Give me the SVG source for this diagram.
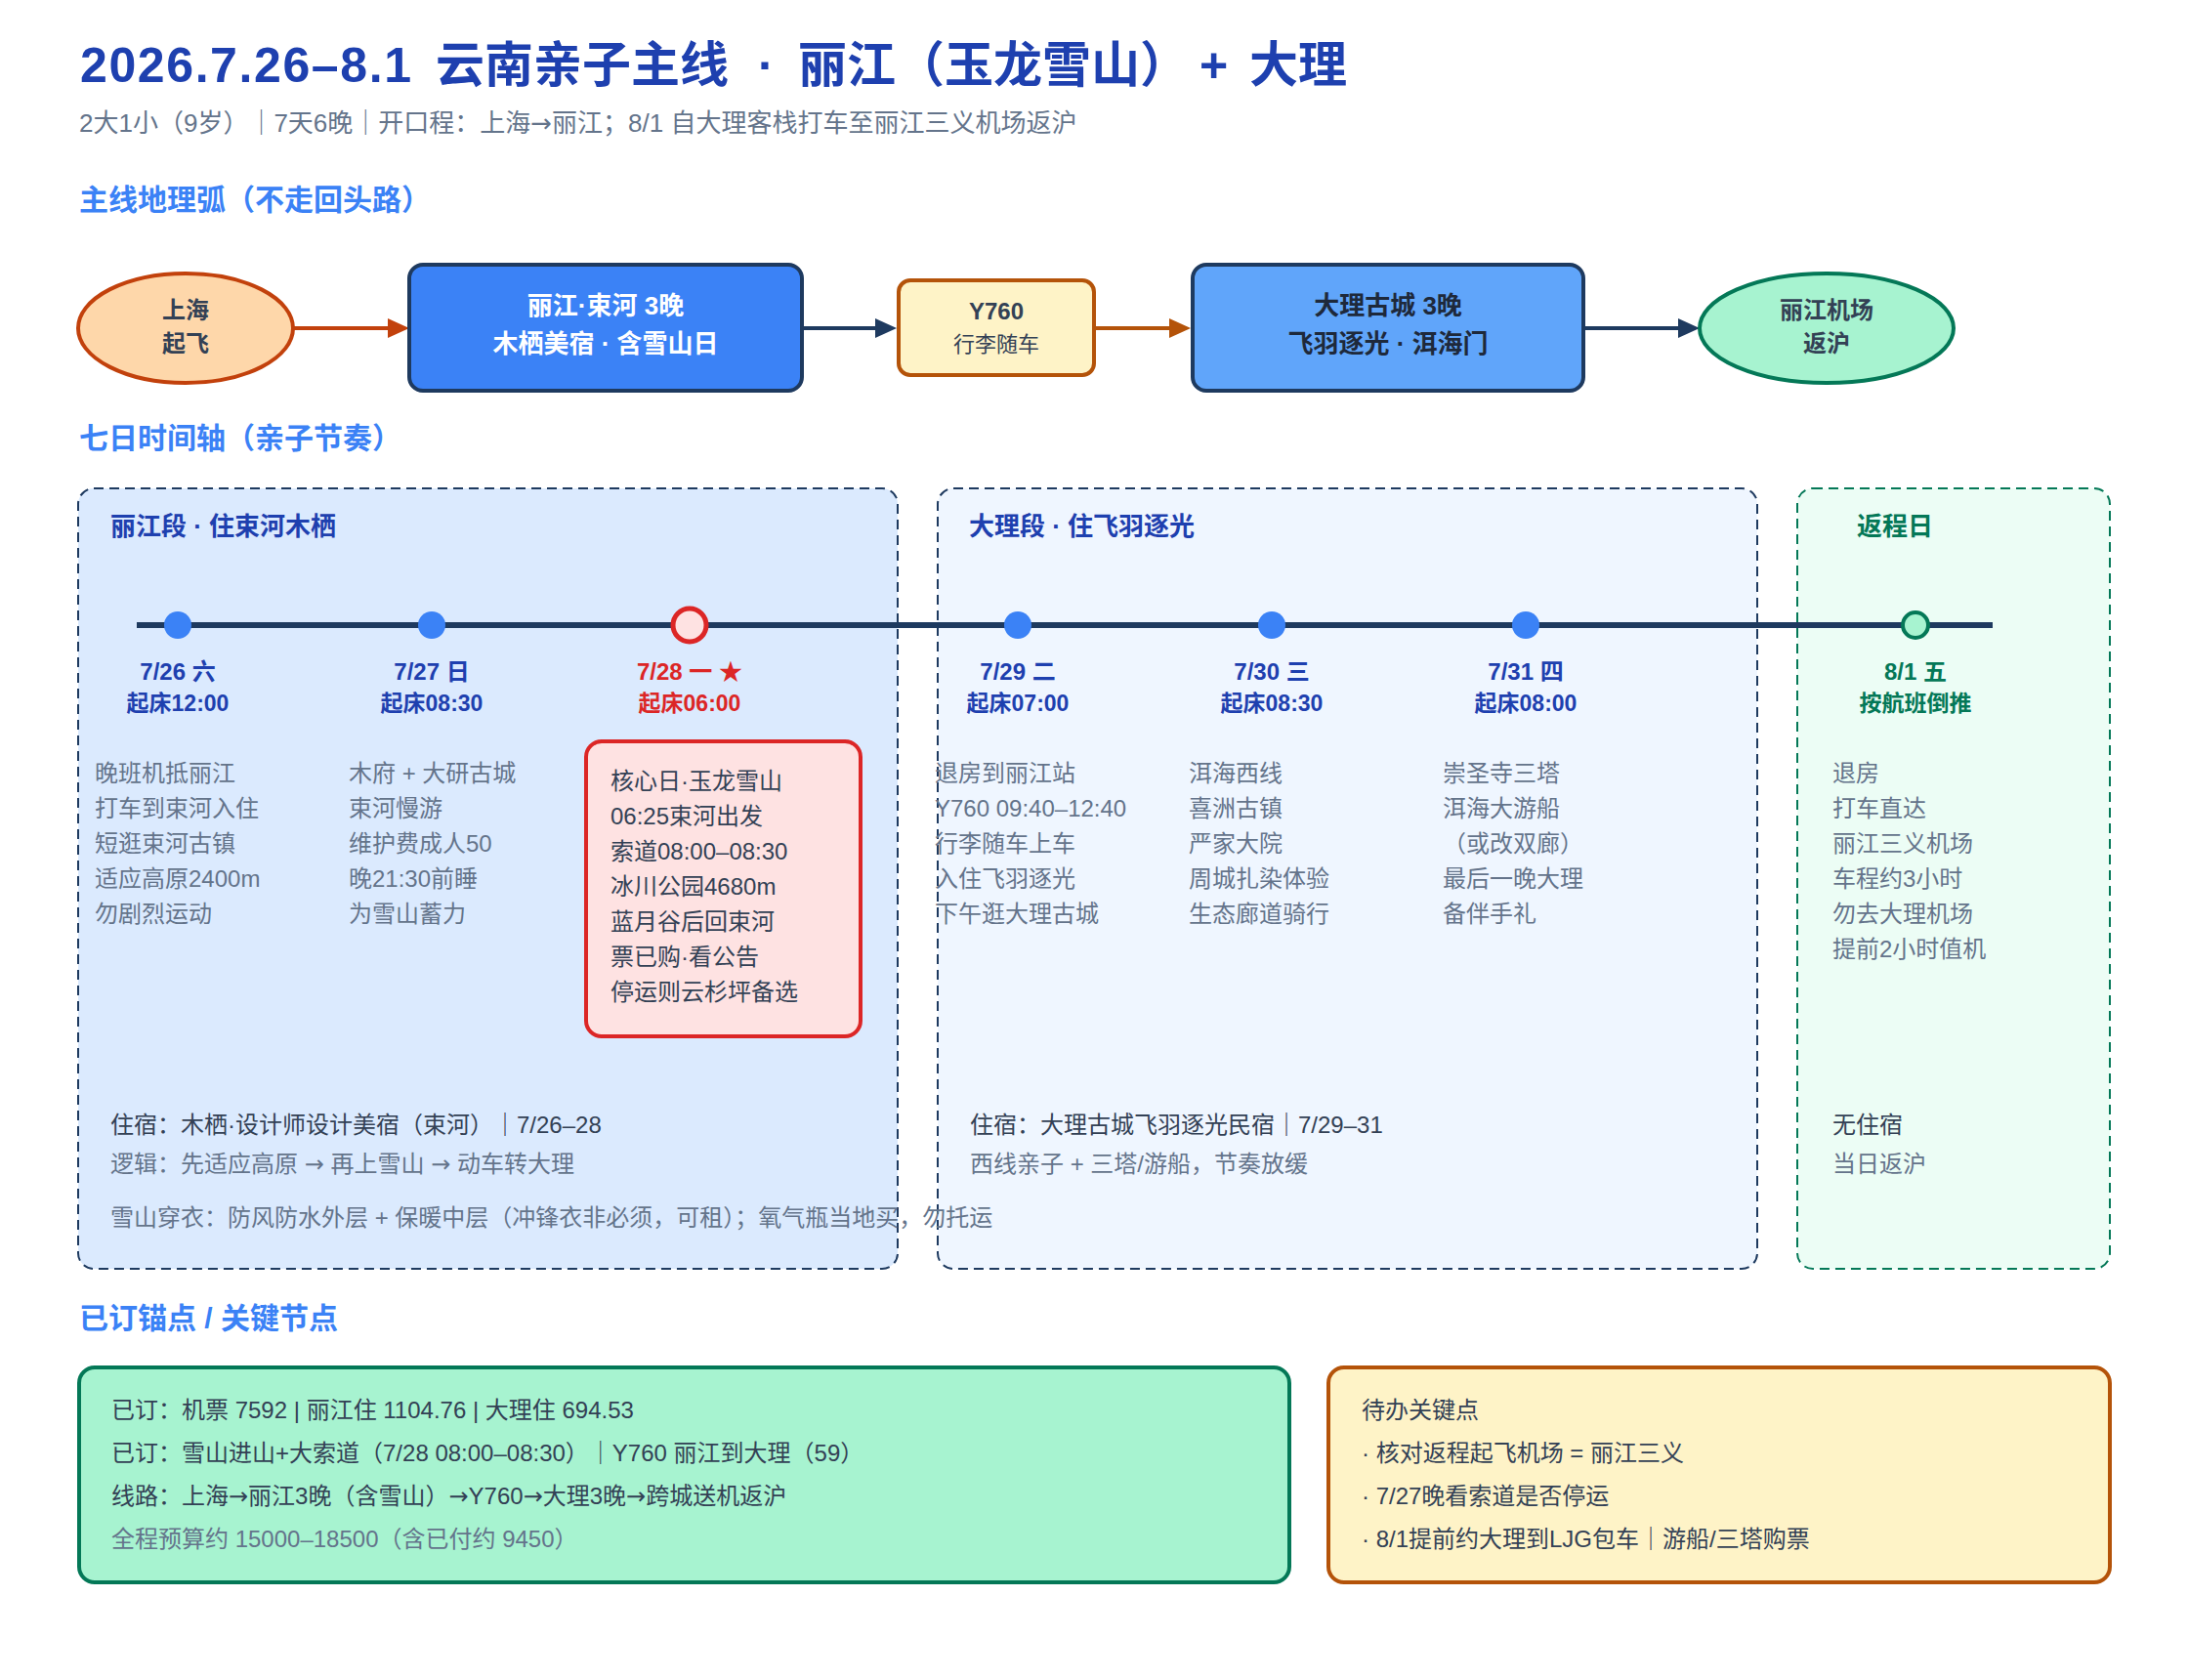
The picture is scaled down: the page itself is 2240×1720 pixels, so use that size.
<svg xmlns="http://www.w3.org/2000/svg" width="2240" height="1720" viewBox="0 0 2240 1720">
<defs>
<style>
text { font-family: "Liberation Sans", "Noto Sans CJK SC", sans-serif; }
.ar { font-family: "DejaVu Sans", sans-serif; }
.title { font-size: 50px; font-weight: 700; fill: #1e40af; }
.sub { font-size: 26px; fill: #64748b; }
.h { font-size: 30px; font-weight: 700; fill: #3b82f6; }
.nl { font-size: 24px; font-weight: 700; fill: #334155; text-anchor: middle; }
.nw { font-size: 26px; font-weight: 700; fill: #ffffff; text-anchor: middle; }
.nd { font-size: 26px; font-weight: 700; fill: #1e293b; text-anchor: middle; }
.ns { font-size: 22px; fill: #334155; text-anchor: middle; }
.pt { font-size: 26px; font-weight: 700; fill: #1e40af; }
.date { font-size: 24px; font-weight: 700; fill: #1e40af; text-anchor: middle; }
.wake { font-size: 23px; font-weight: 700; fill: #1e40af; text-anchor: middle; }
.red { fill: #dc2626; }
.grn { fill: #047857; }
.item { font-size: 24px; fill: #64748b; }
.dark { font-size: 24px; fill: #334155; }
.panel { stroke-width: 2; stroke-dasharray: 10 6; }
.flow { stroke-width: 4; fill: none; }
.dot { fill: #3b82f6; }
</style>
<marker id="ahO" markerUnits="userSpaceOnUse" markerWidth="22" markerHeight="20" refX="12" refY="10" orient="auto">
<path d="M0,0 L22,10 L0,20 Z" fill="#c2410c"/>
</marker>
<marker id="ahO2" markerUnits="userSpaceOnUse" markerWidth="22" markerHeight="20" refX="12" refY="10" orient="auto">
<path d="M0,0 L22,10 L0,20 Z" fill="#b45309"/>
</marker>
<marker id="ahN" markerUnits="userSpaceOnUse" markerWidth="22" markerHeight="20" refX="12" refY="10" orient="auto">
<path d="M0,0 L22,10 L0,20 Z" fill="#1e3a5f"/>
</marker>
</defs>
<rect width="2240" height="1720" fill="#ffffff"/>

<g id="header">
<text class="title" x="82" y="84"><tspan letter-spacing="1.6">2026.7.26–8.1</tspan> <tspan x="446">云南亲子主线</tspan> <tspan x="776">·</tspan> <tspan x="817">丽江（玉龙雪山）</tspan> <tspan x="1228">+</tspan> <tspan x="1279">大理</tspan></text>
<text class="sub" x="81" y="135">2大1小（9岁）｜7天6晚｜开口程：上海<tspan class="ar">→</tspan>丽江；8/1 自大理客栈打车至丽江三义机场返沪</text>
<text class="h" x="81" y="215">主线地理弧（不走回头路）</text>
<text class="h" x="81" y="459">七日时间轴（亲子节奏）</text>
<text class="h" x="81" y="1360">已订锚点 / 关键节点</text>
</g>

<g id="connectors">
<line class="flow" x1="301" y1="336" x2="409" y2="336" stroke="#c2410c" marker-end="url(#ahO)"/>
<line class="flow" x1="821" y1="336" x2="908" y2="336" stroke="#1e3a5f" marker-end="url(#ahN)"/>
<line class="flow" x1="1120" y1="336" x2="1209" y2="336" stroke="#b45309" marker-end="url(#ahO2)"/>
<line class="flow" x1="1621" y1="336" x2="1730" y2="336" stroke="#1e3a5f" marker-end="url(#ahN)"/>
</g>

<g id="node-shanghai">
<ellipse cx="190" cy="336" rx="110" ry="56" fill="#fed7aa" stroke="#c2410c" stroke-width="4"/>
<text class="nl" x="190" y="326">上海</text>
<text class="nl" x="190" y="360">起飞</text>
</g>
<g id="node-lijiang">
<rect x="419" y="271" width="402" height="129" rx="14" fill="#3b82f6" stroke="#1e3a5f" stroke-width="4"/>
<text class="nw" x="620" y="322">丽江·束河 3晚</text>
<text class="nw" x="620" y="361">木栖美宿 · 含雪山日</text>
</g>
<g id="node-y760">
<rect x="920" y="287" width="200" height="97" rx="12" fill="#fef3c7" stroke="#b45309" stroke-width="4"/>
<text class="nl" x="1020" y="327">Y760</text>
<text class="ns" x="1020" y="360">行李随车</text>
</g>
<g id="node-dali">
<rect x="1221" y="271" width="400" height="129" rx="14" fill="#60a5fa" stroke="#1e3a5f" stroke-width="4"/>
<text class="nd" x="1421" y="322">大理古城 3晚</text>
<text class="nd" x="1421" y="361">飞羽逐光 · 洱海门</text>
</g>
<g id="node-airport">
<ellipse cx="1870" cy="336" rx="130" ry="56" fill="#a7f3d0" stroke="#047857" stroke-width="4"/>
<text class="nl" x="1870" y="326">丽江机场</text>
<text class="nl" x="1870" y="360">返沪</text>
</g>

<g id="panel-lijiang">
<rect class="panel" x="80" y="500" width="839" height="799" rx="16" fill="#dbeafe" stroke="#1e3a5f"/>
<text class="pt" x="113" y="548">丽江段 · 住束河木栖</text>
</g>
<g id="panel-dali">
<rect class="panel" x="960" y="500" width="839" height="799" rx="16" fill="#eff6ff" stroke="#1e3a5f"/>
<text class="pt" x="992" y="548">大理段 · 住飞羽逐光</text>
</g>
<g id="panel-return">
<rect class="panel" x="1840" y="500" width="320" height="799" rx="16" fill="#ecfdf5" stroke="#047857"/>
<text class="pt grn" x="1901" y="548">返程日</text>
</g>

<g id="timeline">
<line x1="140" y1="640" x2="2040" y2="640" stroke="#1e3a5f" stroke-width="6"/>
</g>

<g id="day-0726">
<circle class="dot" cx="182" cy="640" r="14"/>
<text class="date" x="182" y="696">7/26 六</text>
<text class="wake" x="182" y="728">起床12:00</text>
<text class="item" x="97" y="800">晚班机抵丽江<tspan x="97" dy="36">打车到束河入住</tspan><tspan x="97" dy="36">短逛束河古镇</tspan><tspan x="97" dy="36">适应高原2400m</tspan><tspan x="97" dy="36">勿剧烈运动</tspan></text>
</g>
<g id="day-0727">
<circle class="dot" cx="442" cy="640" r="14"/>
<text class="date" x="442" y="696">7/27 日</text>
<text class="wake" x="442" y="728">起床08:30</text>
<text class="item" x="357" y="800">木府 + 大研古城<tspan x="357" dy="36">束河慢游</tspan><tspan x="357" dy="36">维护费成人50</tspan><tspan x="357" dy="36">晚21:30前睡</tspan><tspan x="357" dy="36">为雪山蓄力</tspan></text>
</g>
<g id="day-0728">
<circle cx="706" cy="640" r="17" fill="#fee2e2" stroke="#dc2626" stroke-width="5"/>
<text class="date red" x="706" y="696">7/28 一 ★</text>
<text class="wake red" x="706" y="728">起床06:00</text>
<rect x="600" y="759" width="281" height="302" rx="16" fill="#fee2e2" stroke="#dc2626" stroke-width="4"/>
<text class="dark" x="625" y="808">核心日·玉龙雪山<tspan x="625" dy="36">06:25束河出发</tspan><tspan x="625" dy="36">索道08:00–08:30</tspan><tspan x="625" dy="36">冰川公园4680m</tspan><tspan x="625" dy="36">蓝月谷后回束河</tspan><tspan x="625" dy="36">票已购·看公告</tspan><tspan x="625" dy="36">停运则云杉坪备选</tspan></text>
</g>
<g id="day-0729">
<circle class="dot" cx="1042" cy="640" r="14"/>
<text class="date" x="1042" y="696">7/29 二</text>
<text class="wake" x="1042" y="728">起床07:00</text>
<text class="item" x="957" y="800">退房到丽江站<tspan x="957" dy="36">Y760 09:40–12:40</tspan><tspan x="957" dy="36">行李随车上车</tspan><tspan x="957" dy="36">入住飞羽逐光</tspan><tspan x="957" dy="36">下午逛大理古城</tspan></text>
</g>
<g id="day-0730">
<circle class="dot" cx="1302" cy="640" r="14"/>
<text class="date" x="1302" y="696">7/30 三</text>
<text class="wake" x="1302" y="728">起床08:30</text>
<text class="item" x="1217" y="800">洱海西线<tspan x="1217" dy="36">喜洲古镇</tspan><tspan x="1217" dy="36">严家大院</tspan><tspan x="1217" dy="36">周城扎染体验</tspan><tspan x="1217" dy="36">生态廊道骑行</tspan></text>
</g>
<g id="day-0731">
<circle class="dot" cx="1562" cy="640" r="14"/>
<text class="date" x="1562" y="696">7/31 四</text>
<text class="wake" x="1562" y="728">起床08:00</text>
<text class="item" x="1477" y="800">崇圣寺三塔<tspan x="1477" dy="36">洱海大游船</tspan><tspan x="1477" dy="36">（或改双廊）</tspan><tspan x="1477" dy="36">最后一晚大理</tspan><tspan x="1477" dy="36">备伴手礼</tspan></text>
</g>
<g id="day-0801">
<circle cx="1961" cy="640" r="13" fill="#a7f3d0" stroke="#047857" stroke-width="4"/>
<text class="date grn" x="1961" y="696">8/1 五</text>
<text class="wake grn" x="1961" y="728">按航班倒推</text>
<text class="item" x="1876" y="800">退房<tspan x="1876" dy="36">打车直达</tspan><tspan x="1876" dy="36">丽江三义机场</tspan><tspan x="1876" dy="36">车程约3小时</tspan><tspan x="1876" dy="36">勿去大理机场</tspan><tspan x="1876" dy="36">提前2小时值机</tspan></text>
</g>

<g id="stay-notes">
<text class="dark" x="113" y="1160">住宿：木栖·设计师设计美宿（束河）｜7/26–28</text>
<text class="item" x="113" y="1200">逻辑：先适应高原 <tspan class="ar">→</tspan> 再上雪山 <tspan class="ar">→</tspan> 动车转大理</text>
<text class="item" x="113" y="1255">雪山穿衣：防风防水外层 + 保暖中层（冲锋衣非必须，可租）；氧气瓶当地买，勿托运</text>
<text class="dark" x="993" y="1160">住宿：大理古城飞羽逐光民宿｜7/29–31</text>
<text class="item" x="993" y="1200">西线亲子 + 三塔/游船，节奏放缓</text>
<text class="dark" x="1876" y="1160">无住宿</text>
<text class="item" x="1876" y="1200">当日返沪</text>
</g>

<g id="booked">
<rect x="81" y="1400" width="1239" height="220" rx="16" fill="#a7f3d0" stroke="#047857" stroke-width="4"/>
<text class="dark" x="114" y="1452">已订：机票 7592 | 丽江住 1104.76 | 大理住 694.53</text>
<text class="dark" x="114" y="1496">已订：雪山进山+大索道（7/28 08:00–08:30）｜Y760 丽江到大理（59）</text>
<text class="dark" x="114" y="1540">线路：上海<tspan class="ar">→</tspan>丽江3晚（含雪山）<tspan class="ar">→</tspan>Y760<tspan class="ar">→</tspan>大理3晚<tspan class="ar">→</tspan>跨城送机返沪</text>
<text class="item" x="114" y="1584">全程预算约 15000–18500（含已付约 9450）</text>
</g>
<g id="todo">
<rect x="1360" y="1400" width="800" height="220" rx="16" fill="#fef3c7" stroke="#b45309" stroke-width="4"/>
<text class="dark" x="1394" y="1452">待办关键点</text>
<text class="dark" x="1394" y="1496">· 核对返程起飞机场 = 丽江三义</text>
<text class="dark" x="1394" y="1540">· 7/27晚看索道是否停运</text>
<text class="dark" x="1394" y="1584">· 8/1提前约大理到LJG包车｜游船/三塔购票</text>
</g>
</svg>
